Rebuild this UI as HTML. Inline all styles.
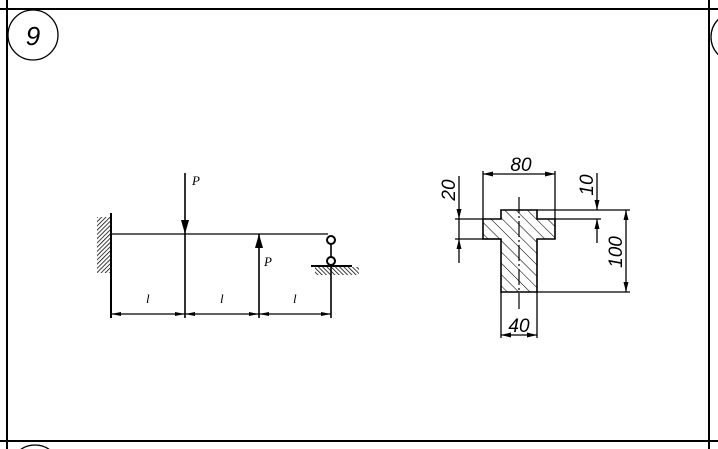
<!DOCTYPE html>
<html><head><style>html,body{margin:0;padding:0;background:#fff;width:718px;height:449px;overflow:hidden}svg{display:block}</style></head><body>
<svg width="718" height="449" viewBox="0 0 718 449" xmlns="http://www.w3.org/2000/svg">
<defs>
<marker id="ar" viewBox="0 0 10 6" refX="10" refY="3" markerWidth="10" markerHeight="6" markerUnits="userSpaceOnUse" orient="auto-start-reverse"><path d="M0,0.5 L10,3 L0,5.5z" fill="#000"/></marker>
<pattern id="h1" patternUnits="userSpaceOnUse" width="3" height="3" patternTransform="rotate(45)"><line x1="0" y1="0" x2="0" y2="3" stroke="#000" stroke-width="1.5"/></pattern>
<pattern id="h3" patternUnits="userSpaceOnUse" width="3" height="3" patternTransform="rotate(-45)"><line x1="0" y1="0" x2="0" y2="3" stroke="#000" stroke-width="1.5"/></pattern>
<pattern id="h2" patternUnits="userSpaceOnUse" width="8" height="8" patternTransform="rotate(-45)"><line x1="0" y1="0" x2="0" y2="8" stroke="#000" stroke-width="1.1"/></pattern>
<clipPath id="tc"><path d="M501,210 H537 V219 H555 V239 H537 V292 H501 V239 H483 V219 H501Z"/></clipPath>
</defs>
<g stroke="#000" fill="none" stroke-width="2">
<line x1="7" y1="0" x2="7" y2="449"/>
<line x1="709" y1="0" x2="709" y2="449"/>
<line x1="0" y1="9" x2="718" y2="9"/>
<line x1="0" y1="441" x2="718" y2="441"/>
</g>
<g stroke="#000" fill="none" stroke-width="1.3">
<circle cx="33" cy="35" r="25"/>
<circle cx="736" cy="37" r="25"/>
<circle cx="35" cy="470" r="25"/>
</g>
<text x="33" y="45" font-family="Liberation Sans,sans-serif" font-style="italic" font-size="26" text-anchor="middle">9</text>
<g stroke="#000" fill="none">
<rect x="97" y="217" width="14" height="56" fill="url(#h1)" stroke="none"/>
<line x1="111" y1="213" x2="111" y2="318" stroke-width="2"/>
<line x1="111" y1="234" x2="328" y2="234" stroke-width="1.3"/>
<line x1="185" y1="173" x2="185" y2="318" stroke-width="1.6"/>
<line x1="259" y1="234" x2="259" y2="318" stroke-width="1.6"/>
<line x1="331" y1="244" x2="331" y2="318" stroke-width="1.6"/>
<circle cx="331" cy="240" r="4" stroke-width="2" fill="#fff"/>
<circle cx="331" cy="261" r="4" stroke-width="2" fill="#fff"/>
<line x1="311" y1="266" x2="352" y2="266" stroke-width="2"/>
<rect x="315" y="267" width="44" height="8" fill="url(#h3)" stroke="none"/>
<line x1="111" y1="314" x2="331" y2="314" stroke-width="1.3"/>
</g>
<path d="M181,220 L185,234 L189,220z" fill="#000"/>
<path d="M255,248 L259,234 L263,248z" fill="#000"/>
<g fill="#000">
<path d="M111,314 l10,-2 v4z"/><path d="M185,314 l-10,-2 v4z"/><path d="M185,314 l10,-2 v4z"/><path d="M259,314 l-10,-2 v4z"/><path d="M259,314 l10,-2 v4z"/><path d="M331,314 l-10,-2 v4z"/>
</g>
<g font-family="Liberation Serif,serif" font-style="italic" font-size="13">
<text x="192" y="185">P</text><text x="264" y="266">P</text>
<text x="146" y="303">l</text><text x="220" y="303">l</text><text x="293" y="303">l</text>
</g>
<rect x="480" y="205" width="80" height="90" fill="url(#h2)" clip-path="url(#tc)"/>
<path d="M501,210 H537 V219 H555 V239 H537 V292 H501 V239 H483 V219 H501Z" fill="none" stroke="#000" stroke-width="1.6"/>
<line x1="519" y1="197" x2="519" y2="310" stroke="#000" stroke-width="1.2" stroke-dasharray="16,3,2,3"/>
<g stroke="#000" stroke-width="1.3" fill="none">
<line x1="483" y1="171" x2="483" y2="219"/><line x1="555" y1="171" x2="555" y2="219"/>
<line x1="483" y1="174" x2="555" y2="174" marker-start="url(#ar)" marker-end="url(#ar)"/>
<line x1="455" y1="219" x2="483" y2="219"/><line x1="455" y1="239" x2="501" y2="239"/>
<line x1="459" y1="176" x2="459" y2="219" marker-end="url(#ar)"/><line x1="459" y1="263" x2="459" y2="239" marker-end="url(#ar)"/>
<line x1="459" y1="219" x2="459" y2="239"/>
<line x1="537" y1="210" x2="630" y2="210"/><line x1="555" y1="219" x2="601" y2="219"/>
<line x1="597" y1="173" x2="597" y2="210" marker-end="url(#ar)"/><line x1="597" y1="243" x2="597" y2="219" marker-end="url(#ar)"/>
<line x1="537" y1="292" x2="630" y2="292"/>
<line x1="626" y1="210" x2="626" y2="292" marker-start="url(#ar)" marker-end="url(#ar)"/>
<line x1="501" y1="292" x2="501" y2="338"/><line x1="537" y1="292" x2="537" y2="338"/>
<line x1="501" y1="335" x2="537" y2="335" marker-start="url(#ar)" marker-end="url(#ar)"/>
</g>
<g font-family="Liberation Sans,sans-serif" font-style="italic" font-size="19">
<text x="521" y="171" text-anchor="middle">80</text>
<text x="519" y="332" text-anchor="middle">40</text>
<text transform="translate(455,190) rotate(-90)" text-anchor="middle">20</text>
<text transform="translate(593,185) rotate(-90)" text-anchor="middle">10</text>
<text transform="translate(622,252) rotate(-90)" text-anchor="middle">100</text>
</g>
</svg>
</body></html>
